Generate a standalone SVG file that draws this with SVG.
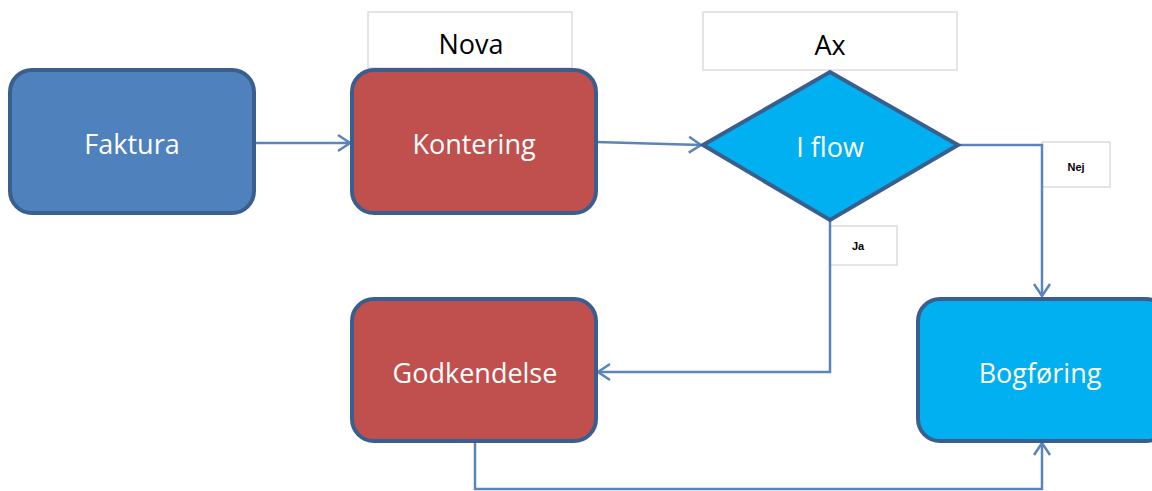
<svg xmlns="http://www.w3.org/2000/svg" width="1152" height="491" viewBox="0 0 1152 491">
<style>
.box{stroke:#3A5F8E;stroke-width:4}
.t{font-family:"Open Sans","Liberation Sans",sans-serif;font-size:27px;fill:#fff;text-anchor:middle}
.lbl{fill:#fff;stroke:#DCDCDC;stroke-width:1.5}
.lt{font-family:"Open Sans","Liberation Sans",sans-serif;font-size:27px;fill:#000;text-anchor:middle}
.st{font-family:"Liberation Sans",sans-serif;font-size:11px;font-weight:bold;fill:#000;text-anchor:middle}
.c{fill:none;stroke:#5B84BB;stroke-width:2.5}
</style>
<defs>
<marker id="a" markerWidth="16" markerHeight="20" refX="14" refY="10" orient="auto" markerUnits="userSpaceOnUse">
<path d="M2,2 L14,10 L2,18" fill="none" stroke="#5B84BB" stroke-width="2.5"/>
</marker>
</defs>
<rect width="1152" height="491" fill="#fff"/>
<g id="label-nova"><rect class="lbl" x="368" y="12" width="204" height="56"/><text class="lt" x="471" y="54">Nova</text></g>
<g id="label-ax"><rect class="lbl" x="703" y="12" width="254" height="58"/><text class="lt" x="830" y="55">Ax</text></g>
<g id="label-nej"><rect class="lbl" x="1042" y="142" width="68" height="45"/><text class="st" x="1076" y="171">Nej</text></g>
<g id="label-ja"><rect class="lbl" x="830" y="226" width="67" height="39"/><text class="st" x="858" y="250">Ja</text></g>
<g id="connectors">
<path class="c" d="M254,143 H350" marker-end="url(#a)"/>
<path class="c" d="M596,142 L701,145" marker-end="url(#a)"/>
<path class="c" d="M958,145 H1042 V296" marker-end="url(#a)"/>
<path class="c" d="M830,220 V372 H598" marker-end="url(#a)"/>
<path class="c" d="M475,441 V489 H1042 V443" marker-end="url(#a)"/>
</g>
<g id="faktura"><rect class="box" x="10" y="70" width="244" height="143" rx="22" fill="#4F81BD"/><text class="t" x="132" y="154">Faktura</text></g>
<g id="kontering"><rect class="box" x="352" y="70" width="244" height="143" rx="22" fill="#C0504D"/><text class="t" x="474" y="154">Kontering</text></g>
<g id="iflow"><polygon class="box" points="703,145 830,72 958,145 830,220" fill="#00B0F0"/><text class="t" x="830" y="157">I flow</text></g>
<g id="godkendelse"><rect class="box" x="352" y="299" width="244" height="142" rx="22" fill="#C0504D"/><text class="t" x="475" y="383">Godkendelse</text></g>
<g id="bogforing"><rect class="box" x="918" y="299" width="250" height="142" rx="22" fill="#00B0F0"/><text class="t" x="1040" y="383">Bogføring</text></g>
</svg>
